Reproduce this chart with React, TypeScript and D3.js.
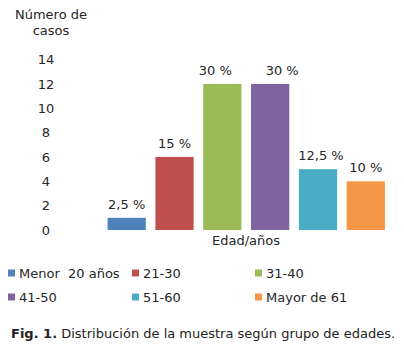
import React, { useEffect, useRef } from "react";
import * as d3 from "d3";

// data
const categories = ["Menor  20 años", "21-30", "31-40", "41-50", "51-60", "Mayor de 61"];
const casos = [1, 6, 12, 12, 5, 4];
const pctLabels = ["2,5 %", "15 %", "30 %", "30 %", "12,5 %", "10 %"];
const colors = ["#4f81bd", "#c0504d", "#9bbb59", "#8064a2", "#4bacc6", "#f79646"];
const yTicks = [0, 2, 4, 6, 8, 10, 12, 14];
// excel nudged a couple of the labels sideways
const labelNudge = [0, 0, -7, 12, 3, 0];

const W = 404;
const H = 361;
const FONT = "'DejaVu Sans', Verdana, sans-serif";
const TXT = "#262626";

function BarChart() {
  const ref = useRef<SVGSVGElement>(null);

  useEffect(() => {
    const svg = d3.select(ref.current);
    svg.selectAll("*").remove();

    const x = d3.scaleBand<string>().domain(categories).range([98, 394.5]).padding(0.2);
    const y = d3.scaleLinear().domain([0, 14]).range([230, 59.6]);

    svg.append("rect").attr("width", W).attr("height", H).attr("fill", "#fff");

    // axis title
    const title = svg.append("text")
      .attr("font-family", FONT).attr("font-size", 13).attr("fill", TXT)
      .attr("text-anchor", "middle");
    title.append("tspan").attr("x", 51).attr("y", 19).text("Número de");
    title.append("tspan").attr("x", 51).attr("y", 35).text("casos");

    // y axis, labels only
    const yAxis = svg.append("g")
      .attr("transform", "translate(46,0)")
      .call(d3.axisLeft(y).tickValues(yTicks).tickSize(0).tickPadding(0).tickFormat(d3.format("d")));
    yAxis.select(".domain").remove();
    yAxis.selectAll("text")
      .attr("text-anchor", "middle")
      .attr("font-family", FONT).attr("font-size", 13).attr("fill", TXT);

    const data = categories.map((c, i) => ({ c, v: casos[i], lab: pctLabels[i], col: colors[i], dx: labelNudge[i] }));

    svg.append("g").selectAll("rect")
      .data(data)
      .join("rect")
      .attr("x", d => x(d.c)!)
      .attr("y", d => y(d.v))
      .attr("width", x.bandwidth())
      .attr("height", d => y(0) - y(d.v))
      .attr("fill", d => d.col);

    svg.append("g").selectAll("text")
      .data(data)
      .join("text")
      .attr("x", d => x(d.c)! + x.bandwidth() / 2 + d.dx)
      .attr("y", d => y(d.v) - 9)
      .attr("text-anchor", "middle")
      .attr("font-family", FONT).attr("font-size", 13).attr("fill", TXT)
      .text(d => d.lab);

    svg.append("text")
      .attr("x", 246).attr("y", 245)
      .attr("text-anchor", "middle")
      .attr("font-family", FONT).attr("font-size", 13).attr("fill", TXT)
      .text("Edad/años");

    // legend, 3 columns
    const colX = [8, 132, 255];
    const rowY = [273, 297];
    const leg = svg.append("g").selectAll("g")
      .data(data)
      .join("g")
      .attr("transform", (d, i) => `translate(${colX[i % 3]},${rowY[Math.floor(i / 3)]})`);
    leg.append("rect").attr("x", 0).attr("y", -3.5).attr("width", 7).attr("height", 7).attr("fill", d => d.col);
    leg.append("text")
      .attr("x", 11).attr("y", 4.5)
      .attr("font-family", FONT).attr("font-size", 13).attr("fill", TXT)
      .style("white-space", "pre")
      .text(d => d.c);

    // caption
    const cap = svg.append("text")
      .attr("x", 11).attr("y", 338)
      .attr("font-family", FONT).attr("font-size", 13).attr("fill", "#222");
    cap.append("tspan").attr("font-weight", "bold").text("Fig. 1.");
    cap.append("tspan").text(" Distribución de la muestra según grupo de edades.");
  }, []);

  return <svg ref={ref} width={W} height={H} style={{ position: "absolute", left: 0, top: 0 }} />;
}

export default function App() {
  return <BarChart />;
}
